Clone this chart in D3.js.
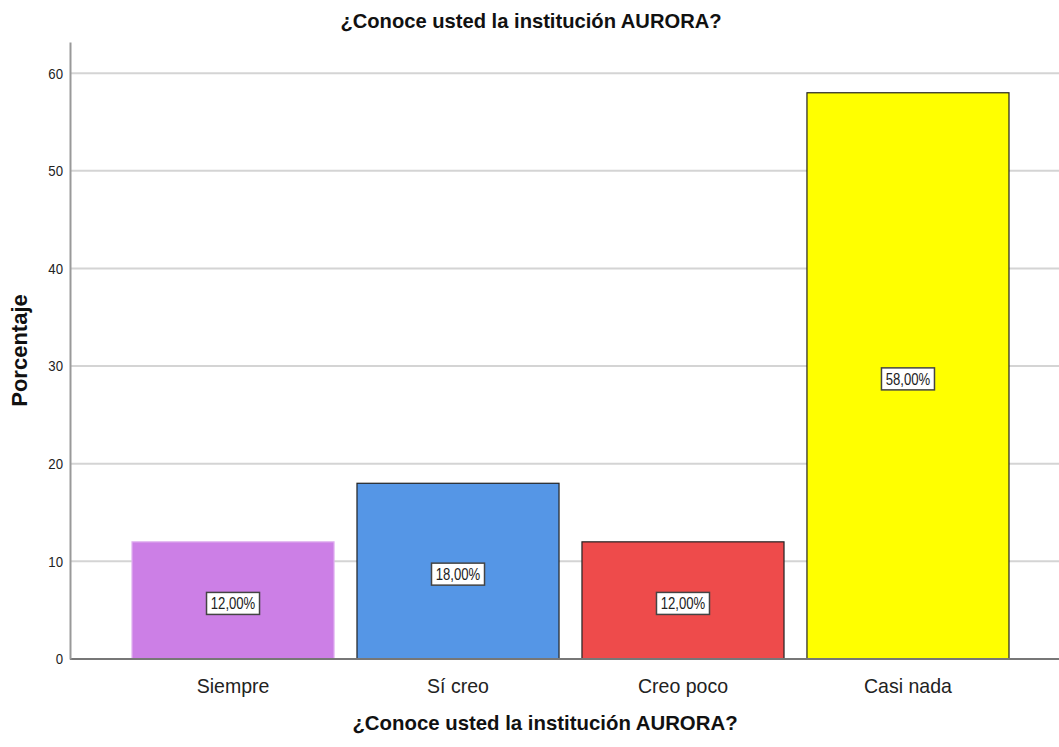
<!DOCTYPE html>
<html>
<head>
<meta charset="utf-8">
<script src="https://cdn.jsdelivr.net/npm/d3@7"></script>
<style>
  body { margin: 0; background: #fff; }
  svg { display: block; }
  text { font-family: "Liberation Sans", Arial, sans-serif; }
</style>
</head>
<body>
<div id="chart"></div>
<script>
const categories = ['Siempre', 'Sí creo', 'Creo poco', 'Casi nada'];
const percentages = [12, 18, 12, 58];
const valueLabels = ['12,00%', '18,00%', '12,00%', '58,00%'];
const yTicks = [0, 10, 20, 30, 40, 50, 60];
const colors = ['#cc7fe6', '#5596e6', '#ee4b4b', '#ffff00'];
const strokes = ['#e0b0f0', '#222', '#222', '#222'];

const width = 1059, height = 747;
const margin = { top: 42, left: 70, bottom: 88 };

// squeeze text horizontally to look like the narrow font of the original
function squeeze(sel, k) {
  sel.each(function () {
    const w = this.getComputedTextLength();
    d3.select(this).attr('textLength', w * k).attr('lengthAdjust', 'spacingAndGlyphs');
  });
}

const svg = d3.select('#chart').append('svg')
  .attr('width', width)
  .attr('height', height);

const x = d3.scaleBand()
  .domain(categories)
  .range([margin.left, 1071])
  .paddingInner(0.102)
  .paddingOuter(0.2756);

const y = d3.scaleLinear()
  .domain([0, 63.2])
  .range([height - margin.bottom, margin.top]);

// gridlines
svg.append('g')
  .selectAll('line')
  .data(yTicks.filter(d => d > 0))
  .enter()
  .append('line')
  .attr('x1', margin.left)
  .attr('x2', width)
  .attr('y1', d => y(d))
  .attr('y2', d => y(d))
  .attr('stroke', '#d4d4d4')
  .attr('stroke-width', 2);

// bars
svg.append('g')
  .selectAll('rect')
  .data(percentages)
  .enter()
  .append('rect')
  .attr('x', (d, i) => x(categories[i]))
  .attr('y', d => y(d))
  .attr('width', x.bandwidth())
  .attr('height', d => y(0) - y(d))
  .attr('fill', (d, i) => colors[i])
  .attr('stroke', (d, i) => strokes[i])
  .attr('stroke-width', 1.2);

// baseline
svg.append('line')
  .attr('x1', margin.left).attr('x2', width)
  .attr('y1', y(0)).attr('y2', y(0))
  .attr('stroke', '#777').attr('stroke-width', 2);

const yAxis = svg.append('g')
  .attr('transform', `translate(${margin.left},0)`)
  .call(d3.axisLeft(y).tickValues(yTicks).tickSize(0).tickPadding(7));
yAxis.select('.domain').attr('stroke', '#999').attr('stroke-width', 2);
yAxis.selectAll('text').attr('font-size', 15).attr('fill', '#222').call(squeeze, 0.88);

const xAxis = svg.append('g')
  .attr('transform', `translate(0,${y(0)})`)
  .call(d3.axisBottom(x).tickSize(0).tickPadding(19));
xAxis.select('.domain').remove();
xAxis.selectAll('text').attr('font-size', 21).attr('fill', '#222').call(squeeze, 0.93);

// value labels, sitting at the middle of each bar
const labels = svg.append('g')
  .selectAll('g')
  .data(percentages)
  .enter()
  .append('g')
  .attr('transform', (d, i) => `translate(${x(categories[i]) + x.bandwidth() / 2},${y(d / 2) + 3})`);

labels.append('rect')
  .attr('x', -26.5).attr('y', -11)
  .attr('width', 53).attr('height', 22)
  .attr('fill', '#fff')
  .attr('stroke', '#444')
  .attr('stroke-width', 1.5);

labels.append('text')
  .attr('text-anchor', 'middle')
  .attr('dy', '0.36em')
  .attr('font-size', 16)
  .attr('fill', '#222')
  .text((d, i) => valueLabels[i])
  .call(squeeze, 0.82);

// titles
svg.append('text')
  .attr('x', 531).attr('y', 28)
  .attr('text-anchor', 'middle')
  .attr('font-size', 21)
  .attr('font-weight', 'bold')
  .attr('fill', '#111')
  .text('¿Conoce usted la institución AURORA?')
  .call(squeeze, 0.96);

svg.append('text')
  .attr('x', 545).attr('y', 730)
  .attr('text-anchor', 'middle')
  .attr('font-size', 21)
  .attr('font-weight', 'bold')
  .attr('fill', '#111')
  .text('¿Conoce usted la institución AURORA?')
  .call(squeeze, 0.97);

svg.append('text')
  .attr('transform', `translate(27,${(margin.top + y(0)) / 2}) rotate(-90)`)
  .attr('text-anchor', 'middle')
  .attr('font-size', 22)
  .attr('font-weight', 'bold')
  .attr('fill', '#111')
  .text('Porcentaje');
</script>
</body>
</html>
